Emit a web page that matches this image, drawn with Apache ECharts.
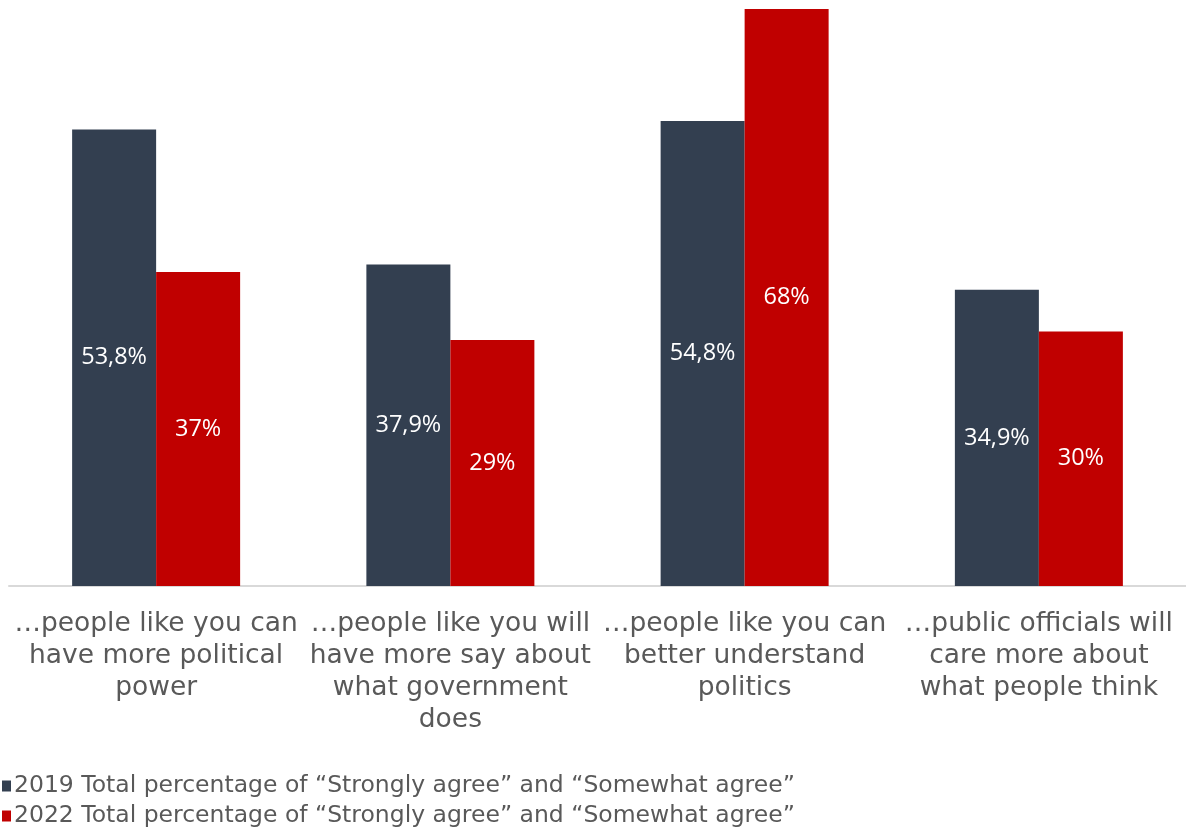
<!DOCTYPE html>
<html>
<head>
<meta charset="utf-8">
<script src="https://cdn.jsdelivr.net/npm/echarts@6/dist/echarts.min.js"></script>
<style>
  html, body { margin: 0; padding: 0; background: #ffffff; }
  #chart { width: 1186px; height: 829px; }
</style>
</head>
<body>
<div id="chart"></div>
<script>
// Survey statements (x-axis)
const categories = [
  '…people like you can\nhave more political\npower',
  '…people like you will\nhave more say about\nwhat government\ndoes',
  '…people like you can\nbetter understand\npolitics',
  '…public officials will\ncare more about\nwhat people think'
];
// Series names
const seriesNames = [
  '2019 Total percentage of “Strongly agree” and “Somewhat agree”',
  '2022 Total percentage of “Strongly agree” and “Somewhat agree”'
];
// Percentages per statement
const values2019 = [53.8, 37.9, 54.8, 34.9];
const values2022 = [37, 29, 68, 30];

const chart = echarts.init(document.getElementById('chart'));

const pct = p => String(p.value).replace('.', ',') + '%';

const labelStyle = {
  show: true,
  position: 'inside',
  color: '#ffffff',
  fontSize: 23.5,
  fontFamily: 'Open Sans',
  formatter: pct
};

chart.setOption({
  animation: false,
  grid: { left: 9, top: 9, width: 1180, height: 577, containLabel: false },
  legend: {
    orient: 'vertical',
    left: -3,
    top: 774,
    height: 80,
    padding: [0, 5, 0, 5],
    itemWidth: 9,
    itemHeight: 11,
    itemGap: 6,
    icon: 'rect',
    textStyle: {
      fontSize: 23.5,
      lineHeight: 24,
      color: '#595959',
      fontFamily: 'DejaVu Sans',
      padding: [0, 0, 0, -2]
    },
    data: seriesNames
  },
  xAxis: {
    type: 'category',
    data: categories,
    axisLine: { lineStyle: { color: '#d9d9d9', width: 2 } },
    axisTick: { show: false },
    axisLabel: {
      interval: 0,
      margin: 22,
      color: '#595959',
      fontSize: 26.5,
      lineHeight: 32,
      fontFamily: 'DejaVu Sans',
      align: 'center'
    }
  },
  yAxis: {
    type: 'value',
    min: 0,
    max: 68,
    show: false,
    splitLine: { show: false }
  },
  series: [
    {
      name: seriesNames[0],
      type: 'bar',
      data: values2019,
      barWidth: 84,
      barGap: '0%',
      itemStyle: { color: '#333f50' },
      label: labelStyle
    },
    {
      name: seriesNames[1],
      type: 'bar',
      data: values2022,
      barWidth: 84,
      itemStyle: { color: '#c00000' },
      label: labelStyle
    }
  ]
});
</script>
</body>
</html>
